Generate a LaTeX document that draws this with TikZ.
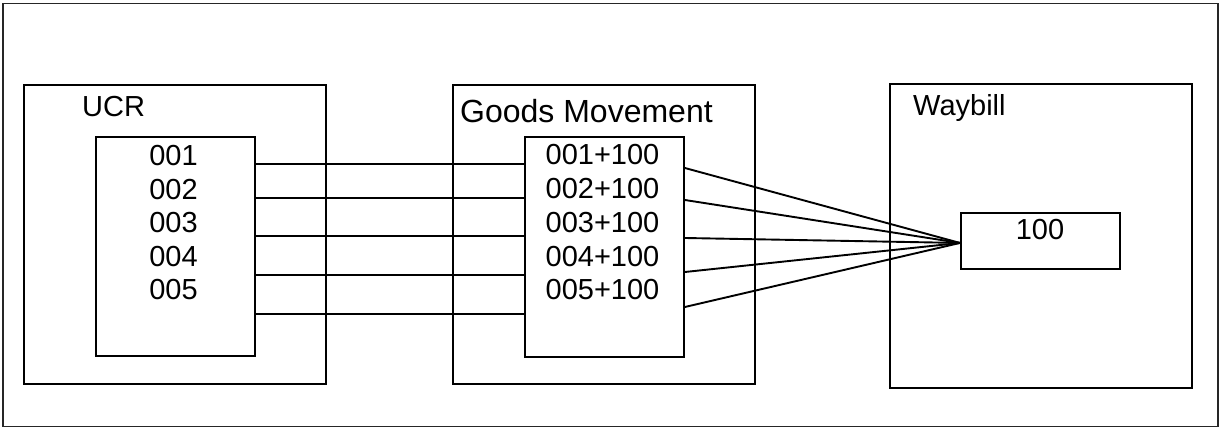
\documentclass[tikz,border=0pt]{standalone}
\usepackage{fontspec}
\setmainfont{Liberation Sans}
\begin{document}
\begin{tikzpicture}[x=1pt,y=1pt,
  box/.style={draw=black,line width=1.9pt,rectangle,inner sep=0pt,anchor=north west},
  frame/.style={draw=black!85,line width=1.5pt,rectangle,inner sep=0pt,anchor=north west},
  txt/.style={inner sep=0pt,anchor=base,font=\fontsize{29}{34}\selectfont},
  lbl/.style={inner sep=0pt,anchor=base west,font=\fontsize{29}{34}\selectfont},
  link/.style={draw=black,line width=1.9pt}]
\useasboundingbox (0,0) rectangle (1219,428);
% outer frame
\node[frame,minimum width=1215pt,minimum height=423pt] (outer) at (2,425) {};
% group boxes
\node[box,minimum width=302pt,minimum height=299pt] (ucr) at (23,344) {};
\node[box,minimum width=302pt,minimum height=299pt] (gm) at (452,344) {};
\node[box,minimum width=302pt,minimum height=304pt] (wb) at (889,345) {};
% labels
\node[lbl] (ucrlbl) at (82,311.3) {UCR};
\node[lbl,font=\fontsize{32}{37}\selectfont] (gmlbl) at (460,305) {Goods Movement};
\node[lbl] (wblbl) at (913,312) {Waybill};
% inner boxes
\node[box,fill=white,minimum width=159pt,minimum height=219pt] (ucrin) at (95,292) {};
\node[box,fill=white,minimum width=159pt,minimum height=220pt] (gmin) at (524,292) {};
\node[box,fill=white,minimum width=159pt,minimum height=56pt] (wbin) at (960,216) {};
% texts
\node[txt] (u1) at (173.5,262) {001};
\node[txt] (u2) at (173.5,228.5) {002};
\node[txt] (u3) at (173.5,195) {003};
\node[txt] (u4) at (173.5,161.3) {004};
\node[txt] (u5) at (173.5,128) {005};
\node[txt] (g1) at (602.5,263) {001+100};
\node[txt] (g2) at (602.5,229) {002+100};
\node[txt] (g3) at (602.5,195.3) {003+100};
\node[txt] (g4) at (602.5,161.3) {004+100};
\node[txt] (g5) at (602.5,128) {005+100};
\node[txt] (w1) at (1040,188) {100};
% connectors UCR -> Goods Movement
\foreach \o in {28,62,100,139,178}{
  \draw[link] ([yshift=-\o pt]ucrin.north east) -- ([yshift=-\o pt]gmin.north west);
}
% connectors Goods Movement -> Waybill
\foreach \o in {32,64,102,136,171}{
  \draw[link] ([yshift=-\o pt]gmin.north east) -- ([yshift=-2pt]wbin.west);
}
\end{tikzpicture}
\end{document}
